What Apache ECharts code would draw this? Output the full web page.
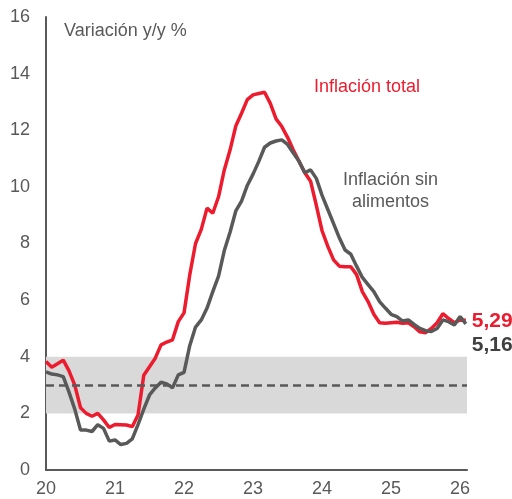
<!DOCTYPE html>
<html>
<head>
<meta charset="utf-8">
<script src="https://cdn.jsdelivr.net/npm/echarts@6/dist/echarts.min.js"></script>
<style>
html,body{margin:0;padding:0;background:#fff;}
#c{width:512px;height:499px;}
</style>
</head>
<body>
<div id="c"></div>
<script>
// Year tick labels (one every 12 monthly points, first point = end of Dec 2019)
const yearLabels = ['20', '21', '22', '23', '24', '25', '26'];
// Inflación total (%), monthly
const inflacionTotal = [
  3.83, 3.63, 3.75, 3.88, 3.50, 3.00, 2.20, 2.00, 1.90, 2.00, 1.77, 1.50,
  1.61, 1.60, 1.59, 1.53, 1.94, 3.35, 3.65, 3.95, 4.42, 4.52, 4.60, 5.24,
  5.55, 6.90, 8.00, 8.50, 9.25, 9.07, 9.65, 10.60, 11.30, 12.15, 12.60, 13.08,
  13.25, 13.30, 13.34, 12.95, 12.40, 12.13, 11.75, 11.30, 10.90, 10.50, 10.20, 9.35,
  8.45, 7.90, 7.42, 7.20, 7.18, 7.18, 6.90, 6.30, 5.95, 5.50, 5.20, 5.18,
  5.20, 5.22, 5.18, 5.20, 5.06, 4.88, 4.85, 5.00, 5.20, 5.52, 5.35, 5.20,
  5.30, 5.29
];
// Inflación sin alimentos (%), monthly
const inflacionSinAlimentos = [
  3.47, 3.39, 3.36, 3.30, 2.75, 2.15, 1.41, 1.41, 1.36, 1.60, 1.47, 1.02,
  1.06, 0.90, 0.94, 1.10, 1.60, 2.15, 2.65, 2.90, 3.10, 3.04, 2.90, 3.36,
  3.45, 4.40, 5.05, 5.30, 5.72, 6.30, 6.85, 7.75, 8.40, 9.15, 9.50, 10.05,
  10.45, 10.90, 11.40, 11.55, 11.62, 11.66, 11.50, 11.20, 10.90, 10.50, 10.60, 10.30,
  9.70, 9.20, 8.70, 8.20, 7.77, 7.62, 7.20, 6.80, 6.55, 6.30, 5.95, 5.72,
  5.50, 5.42, 5.26, 5.30, 5.14, 5.00, 4.92, 4.89, 5.00, 5.30, 5.24, 5.12,
  5.42, 5.16
];
// Target range and target
const bandLow = 2, bandHigh = 4, target = 3;
const yTicks = [0, 2, 4, 6, 8, 10, 12, 14, 16];

const FONT = 'Liberation Sans, Arial, sans-serif';
const RED = '#EC1C2E';
const GRAY = '#595959';

const toPairs = arr => arr.map((v, i) => [i, v]);
const fmt = v => v.toFixed(2).replace('.', ',');

const chart = echarts.init(document.getElementById('c'), null, {renderer: 'canvas'});
chart.setOption({
  animation: false,
  backgroundColor: '#ffffff',
  grid: {left: 46, right: 45, top: 17, bottom: 29, containLabel: false},
  xAxis: {
    type: 'value',
    min: 0,
    max: 73.2,
    interval: 12,
    axisLine: {show: true, lineStyle: {color: GRAY, width: 2}},
    axisTick: {show: false},
    splitLine: {show: false},
    axisLabel: {
      color: GRAY, fontFamily: FONT, fontSize: 18, margin: 10,
      showMaxLabel: false,
      formatter: v => (v % 12 === 0 && yearLabels[v / 12] !== undefined) ? yearLabels[v / 12] : ''
    }
  },
  yAxis: {
    type: 'value',
    min: yTicks[0],
    max: yTicks[yTicks.length - 1],
    interval: 2,
    axisLine: {show: true, lineStyle: {color: GRAY, width: 2}},
    axisTick: {show: false},
    splitLine: {show: false},
    axisLabel: {color: GRAY, fontFamily: FONT, fontSize: 18, margin: 16}
  },
  graphic: [
    {type: 'text', left: 64, top: 22, style: {text: 'Variación y/y %', fill: GRAY, font: '18px ' + FONT}},
    {type: 'text', left: 314, top: 78, style: {text: 'Inflación total', fill: RED, font: '18px ' + FONT}},
    {type: 'text', left: 343, top: 169, style: {text: 'Inflación sin\nalimentos', fill: GRAY, font: '18px ' + FONT, textAlign: 'center', lineHeight: 22, x: 50}}
  ],
  series: [
    {
      type: 'line',
      data: [],
      z: 1,
      silent: true,
      markArea: {
        silent: true,
        itemStyle: {color: '#D9D9D9'},
        data: [[{yAxis: bandLow}, {yAxis: bandHigh}]]
      },
      markLine: {
        silent: true,
        symbol: 'none',
        label: {show: false},
        lineStyle: {color: GRAY, width: 2.5, type: [8, 5]},
        data: [{yAxis: target}]
      }
    },
    {
      name: 'Inflación total',
      type: 'line',
      z: 3,
      data: toPairs(inflacionTotal),
      showSymbol: false,
      symbol: 'none',
      lineStyle: {color: RED, width: 3.5},
      endLabel: {
        show: true,
        formatter: p => fmt(p.value[1]),
        color: RED, fontFamily: FONT, fontSize: 21, fontWeight: 'bold',
        distance: 6, offset: [0, 1]
      }
    },
    {
      name: 'Inflación sin alimentos',
      type: 'line',
      z: 4,
      data: toPairs(inflacionSinAlimentos),
      showSymbol: false,
      symbol: 'none',
      lineStyle: {color: GRAY, width: 3.5},
      endLabel: {
        show: true,
        formatter: p => fmt(p.value[1]),
        color: '#404040', fontFamily: FONT, fontSize: 21, fontWeight: 'bold',
        distance: 6, offset: [0, 21]
      }
    }
  ]
});
</script>
</body>
</html>
